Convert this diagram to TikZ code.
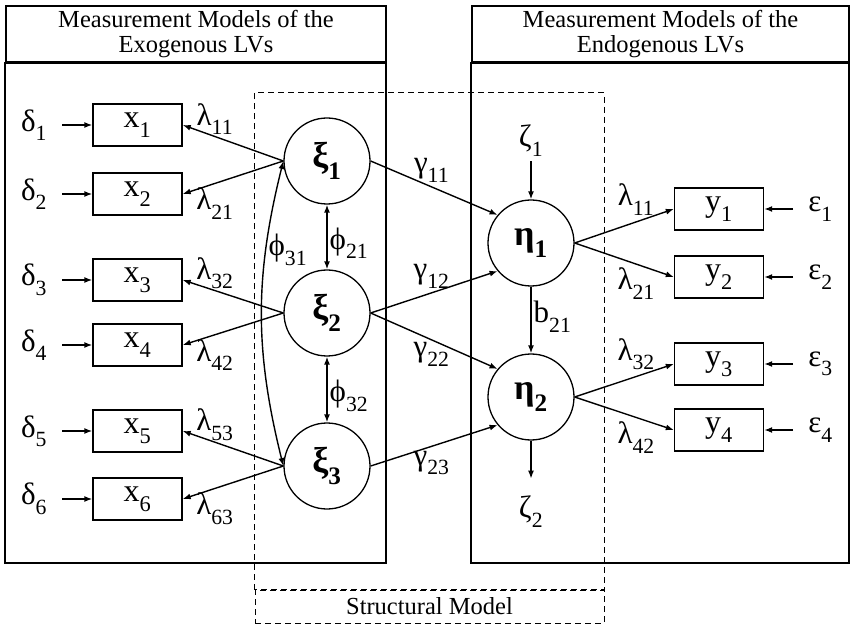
\documentclass[tikz,border=0pt]{standalone}
\usepackage{fontspec}
\setmainfont{Liberation Serif}
\usetikzlibrary{arrows.meta,positioning}
\newcommand{\sbs}[1]{\raisebox{-0.12em}{\textsubscript{#1}}}

\begin{document}
\begin{tikzpicture}[x=1pt,y=1pt,font=\fontsize{31}{33}\selectfont,
  obs/.style={draw,line width=1.4pt,minimum width=89pt,minimum height=42pt,
              inner sep=0pt,font=\fontsize{32}{34}\selectfont},
  lv/.style={draw,circle,line width=1.3pt,minimum size=86pt,inner sep=0pt,
             font=\fontsize{36}{38}\selectfont\bfseries},
  err/.style={inner sep=0pt},
  lab/.style={inner sep=0pt},
  hdr/.style={draw,line width=1.6pt,minimum height=56pt,inner sep=0pt,
              align=center,font=\fontsize{24.5}{25}\selectfont},
  panel/.style={line width=1.6pt},
  smbox/.style={dashed,dash pattern=on 6pt off 4pt,line width=1pt},
  load/.style={-{Latex[length=8pt,width=6pt]},line width=1.4pt},
  errarr/.style={load,shorten <=15pt},
  cov/.style={{Latex[length=8pt,width=6pt]}-{Latex[length=8pt,width=6pt]},line width=1.4pt}]
  \useasboundingbox (0,0) rectangle (850,624);

  % panels
  \node[hdr,minimum width=380pt] (exohead) at (196,590) {Measurement Models of the\\Exogenous LVs};
  \node[hdr,minimum width=377pt] (endohead) at (660.5,590) {Measurement Models of the\\Endogenous LVs};
  \draw[panel] (exohead.south west) rectangle (386,61);
  \draw[panel] (endohead.south west) rectangle (849,61);
  \node[smbox,draw,minimum width=349pt,minimum height=33pt,inner sep=0pt,
        font=\fontsize{24.5}{25}\selectfont] (smhead) at (429.5,17.5) {Structural Model};
  \draw[smbox] (smhead.north west) rectangle (604,531);

  % exogenous side
  \node[lv] (xi1) at (327,463) {ξ\sbs{1}};
  \node[lv] (xi2) at (327,311) {ξ\sbs{2}};
  \node[lv] (xi3) at (327,158) {ξ\sbs{3}};
  \node[obs] (x1) at (137.5,499) {x\sbs{1}};
  \node[obs] (x2) at (137.5,430) {x\sbs{2}};
  \node[obs] (x3) at (137.5,344) {x\sbs{3}};
  \node[obs] (x4) at (137.5,279) {x\sbs{4}};
  \node[obs] (x5) at (137.5,193) {x\sbs{5}};
  \node[obs] (x6) at (137.5,125) {x\sbs{6}};
  \node[err,left=45pt of x1] (d1) {δ\sbs{1}};
  \node[err,left=45pt of x2] (d2) {δ\sbs{2}};
  \node[err,left=45pt of x3] (d3) {δ\sbs{3}};
  \node[err,left=45pt of x4] (d4) {δ\sbs{4}};
  \node[err,left=45pt of x5] (d5) {δ\sbs{5}};
  \node[err,left=45pt of x6] (d6) {δ\sbs{6}};

  % endogenous side
  \node[lv] (eta1) at (531,381) {η\sbs{1}};
  \node[lv] (eta2) at (531,227) {η\sbs{2}};
  \node[obs] (y1) at (719,415) {y\sbs{1}};
  \node[obs] (y2) at (719,347) {y\sbs{2}};
  \node[obs] (y3) at (719,260) {y\sbs{3}};
  \node[obs] (y4) at (719,194) {y\sbs{4}};
  \node[err,right=44pt of y1] (e1) {ε\sbs{1}};
  \node[err,right=44pt of y2] (e2) {ε\sbs{2}};
  \node[err,right=44pt of y3] (e3) {ε\sbs{3}};
  \node[err,right=44pt of y4] (e4) {ε\sbs{4}};
  \node[err,above=43pt of eta1] (z1) {ζ\sbs{1}};
  \node[err,below=55pt of eta2] (z2) {ζ\sbs{2}};

  % error terms
  \draw[errarr] (d1) -- (x1);
  \draw[errarr] (d2) -- (x2);
  \draw[errarr] (d3) -- (x3);
  \draw[errarr] (d4) -- (x4);
  \draw[errarr] (d5) -- (x5);
  \draw[errarr] (d6) -- (x6);
  \draw[errarr] (e1) -- (y1);
  \draw[errarr] (e2) -- (y2);
  \draw[errarr] (e3) -- (y3);
  \draw[errarr] (e4) -- (y4);
  \draw[load,shorten <=5pt] (z1) -- (eta1);
  \draw[load,shorten >=17pt] (eta2) -- (z2);

  % loadings
  \draw[load] (xi1.west) -- node[lab,pos=0.68,above=1pt] {λ\sbs{11}} (x1.east);
  \draw[load] (xi1.west) -- node[lab,pos=0.68,below=4pt] {λ\sbs{21}} (x2.east);
  \draw[load] (xi2.west) -- node[lab,pos=0.68,above=1pt] {λ\sbs{32}} (x3.east);
  \draw[load] (xi2.west) -- node[lab,pos=0.68,below=4pt] {λ\sbs{42}} (x4.east);
  \draw[load] (xi3.west) -- node[lab,pos=0.68,above=1pt] {λ\sbs{53}} (x5.east);
  \draw[load] (xi3.west) -- node[lab,pos=0.68,below=4pt] {λ\sbs{63}} (x6.east);
  \draw[load] (eta1.east) -- node[lab,pos=0.62,above=6pt] {λ\sbs{11}} (y1.west);
  \draw[load] (eta1.east) -- node[lab,pos=0.62,below=3pt] {λ\sbs{21}} (y2.west);
  \draw[load] (eta2.east) -- node[lab,pos=0.62,above=6pt] {λ\sbs{32}} (y3.west);
  \draw[load] (eta2.east) -- node[lab,pos=0.62,below=4pt] {λ\sbs{42}} (y4.west);

  % structural paths
  \draw[load] (xi1.east) -- node[lab,pos=0.48,above=4pt] {γ\sbs{11}} (eta1.140);
  \draw[load] (xi2.east) -- node[lab,pos=0.48,above=4pt] {γ\sbs{12}} (eta1.220);
  \draw[load] (xi2.east) -- node[lab,pos=0.48,below=2pt] {γ\sbs{22}} (eta2.140);
  \draw[load] (xi3.east) -- node[lab,pos=0.48,below=4pt] {γ\sbs{23}} (eta2.220);
  \draw[load] (eta1) -- node[lab,pos=0.45,right=2pt] {b\sbs{21}} (eta2);

  % covariances
  \draw[cov] (xi1) -- node[lab,pos=0.6,right=2pt] {ϕ\sbs{21}} (xi2);
  \draw[cov] (xi2) -- node[lab,pos=0.6,right=2pt] {ϕ\sbs{32}} (xi3);
  \draw[cov] (xi1.west) to[out=-104,in=104] node[lab,pos=0.28,right=2pt] {ϕ\sbs{31}} (xi3.west);
\end{tikzpicture}
\end{document}
